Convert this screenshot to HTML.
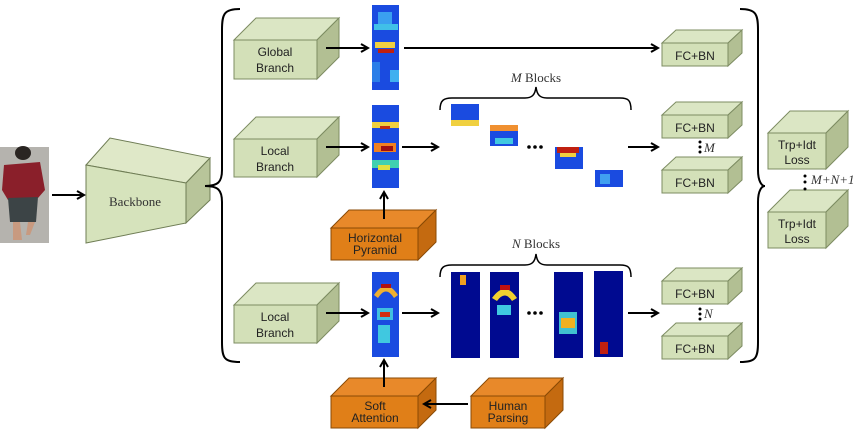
<!DOCTYPE html>
<html><head><meta charset="utf-8"><style>
html,body{margin:0;padding:0;background:#fff;}
svg{display:block;}
.g{font-family:"Liberation Sans",sans-serif;font-size:12px;fill:#222;text-anchor:middle;}
.s{font-family:"Liberation Serif",serif;font-size:13px;fill:#333;text-anchor:middle;}
.i{font-family:"Liberation Serif",serif;font-style:italic;font-size:13px;fill:#333;}
</style></head><body>
<svg width="865" height="430" viewBox="0 0 865 430" xmlns="http://www.w3.org/2000/svg">
<defs>
<marker id="a" markerWidth="10" markerHeight="10" refX="8" refY="5" orient="auto" markerUnits="userSpaceOnUse">
<path d="M1,1 L8,5 L1,9" fill="none" stroke="#000" stroke-width="2"/></marker>
</defs>
<g stroke-width="1">
<!-- person -->
<rect x="0" y="147" width="49" height="96" fill="#9a9a9a"/>
<rect x="0" y="147" width="49" height="96" fill="#b5b3ae"/>
<ellipse cx="23" cy="153" rx="8" ry="7" fill="#2a2522"/>
<path d="M4,165 L40,162 L45,190 L38,198 L8,200 L2,190Z" fill="#8a1f2a"/>
<path d="M8,198 L38,197 L36,222 L10,222Z" fill="#3c4446"/>
<path d="M13,222 L20,222 L22,240 L13,240Z M28,222 L35,222 L30,235 L26,235Z" fill="#c89a80"/>
<!-- backbone -->
<polygon points="86,165 110,138 210,158 186,183" fill="#dfe8c8" stroke="#6f7d55"/>
<polygon points="186,183 210,158 210,200 186,223" fill="#b8c59a" stroke="#6f7d55"/>
<polygon points="86,165 186,183 186,223 86,243" fill="#d6e3bc" stroke="#6f7d55"/>
<text x="135" y="206" class="s" font-size="13">Backbone</text>
<line x1="52" y1="195" x2="84" y2="195" stroke="#000" stroke-width="2" marker-end="url(#a)"/>
<!-- left brace -->
<path d="M240,9 C224,9 222,14 222,30 L222,170 C222,182 218,186 205,186 C218,186 222,190 222,202 L222,342 C222,358 224,362 240,362" fill="none" stroke="#000" stroke-width="2"/>
<!-- right brace -->
<path d="M740,9 C756,9 758,14 758,30 L758,170 C758,182 762,186 765,186 C762,186 758,190 758,202 L758,342 C758,358 756,362 740,362" fill="none" stroke="#000" stroke-width="2"/>
</g>
<!-- green cubes -->
<g stroke="#7d8c62" stroke-width="1">
<g>
<polygon points="234,40 256,18 339,18 317,40" fill="#dbe6c4"/><polygon points="317,40 339,18 339,57 317,79" fill="#b2bf93"/><rect x="234" y="40" width="83" height="39" fill="#d3e0b8"/>
</g>
<g>
<polygon points="234,139 256,117 339,117 317,139" fill="#dbe6c4"/><polygon points="317,139 339,117 339,155 317,177" fill="#b2bf93"/><rect x="234" y="139" width="83" height="38" fill="#d3e0b8"/>
</g>
<g>
<polygon points="234,305 256,283 339,283 317,305" fill="#dbe6c4"/><polygon points="317,305 339,283 339,321 317,343" fill="#b2bf93"/><rect x="234" y="305" width="83" height="38" fill="#d3e0b8"/>
</g>
<!-- FC+BN -->
<g id="fc">
<polygon points="662,43 676,30 742,30 728,43" fill="#dbe6c4"/><polygon points="728,43 742,30 742,53 728,66" fill="#b2bf93"/><rect x="662" y="43" width="66" height="23" fill="#d3e0b8"/>
</g>
<use href="#fc" y="72"/><use href="#fc" y="127"/><use href="#fc" y="238"/><use href="#fc" y="293"/>
<!-- Trp -->
<g id="tr">
<polygon points="768,133 790,111 848,111 826,133" fill="#dbe6c4"/><polygon points="826,133 848,111 848,147 826,169" fill="#b2bf93"/><rect x="768" y="133" width="58" height="36" fill="#d3e0b8"/>
</g>
<use href="#tr" y="79"/>
</g>
<!-- orange cubes -->
<g stroke="#8a4a05" stroke-width="1">
<polygon points="331,228 349,210 436,210 418,228" fill="#e8892a"/><polygon points="418,228 436,210 436,242 418,260" fill="#c46a10"/><rect x="331" y="228" width="87" height="32" fill="#e07f18"/>
<polygon points="331,396 349,378 436,378 418,396" fill="#e8892a"/><polygon points="418,396 436,378 436,410 418,428" fill="#c46a10"/><rect x="331" y="396" width="87" height="32" fill="#e07f18"/>
<polygon points="471,396 489,378 563,378 545,396" fill="#e8892a"/><polygon points="545,396 563,378 563,410 545,428" fill="#c46a10"/><rect x="471" y="396" width="74" height="32" fill="#e07f18"/>
</g>
<!-- labels -->
<g class="g">
<text x="275" y="56">Global</text><text x="275" y="72">Branch</text>
<text x="275" y="155">Local</text><text x="275" y="171">Branch</text>
<text x="275" y="321">Local</text><text x="275" y="337">Branch</text>
<text x="375" y="242">Horizontal</text><text x="375" y="254">Pyramid</text>
<text x="375" y="410">Soft</text><text x="375" y="422">Attention</text>
<text x="508" y="410">Human</text><text x="508" y="422">Parsing</text>
<text x="695" y="60">FC+BN</text><text x="695" y="132">FC+BN</text><text x="695" y="187">FC+BN</text>
<text x="695" y="298">FC+BN</text><text x="695" y="353">FC+BN</text>
<text x="797" y="149">Trp+Idt</text><text x="797" y="164">Loss</text>
<text x="797" y="228">Trp+Idt</text><text x="797" y="243">Loss</text>
</g>
<!-- heatmaps -->
<g>
<rect x="372" y="5" width="27" height="85" fill="#1a4be0"/>
<rect x="378" y="12" width="14" height="12" fill="#3aa0f0"/><rect x="374" y="24" width="24" height="6" fill="#40c0e8"/>
<rect x="375" y="42" width="20" height="6" fill="#f0d040"/><rect x="378" y="49" width="16" height="4" fill="#c02010"/>
<rect x="372" y="62" width="8" height="20" fill="#2a7ee8"/><rect x="390" y="70" width="9" height="12" fill="#40b0f0"/>
<rect x="372" y="105" width="27" height="83" fill="#1a4be0"/>
<rect x="372" y="122" width="27" height="6" fill="#f0d040"/><rect x="380" y="126" width="10" height="3" fill="#c03010"/>
<rect x="374" y="143" width="22" height="9" fill="#f08020"/><rect x="381" y="146" width="12" height="5" fill="#a01010"/>
<rect x="372" y="160" width="27" height="8" fill="#40d0b0"/><rect x="378" y="165" width="12" height="5" fill="#e0e040"/>
<rect x="372" y="272" width="27" height="85" fill="#1a4be0"/>
<path d="M374,295 Q386,277 398,295 L394,298 Q386,285 378,298Z" fill="#f0b030"/><rect x="381" y="284" width="10" height="4" fill="#b01010"/>
<rect x="377" y="308" width="16" height="12" fill="#40c0e0"/><rect x="380" y="312" width="10" height="5" fill="#d03010"/>
<rect x="378" y="325" width="12" height="18" fill="#40c8e0"/>
<!-- M blocks -->
<rect x="451" y="104" width="28" height="22" fill="#1a4be0"/><rect x="451" y="120" width="28" height="6" fill="#f0d040"/>
<rect x="490" y="125" width="28" height="21" fill="#1a4be0"/><rect x="490" y="125" width="28" height="6" fill="#f09030"/><rect x="495" y="138" width="18" height="6" fill="#40c8e0"/>
<rect x="555" y="147" width="28" height="22" fill="#1a4be0"/><rect x="557" y="147" width="22" height="6" fill="#c02010"/><rect x="560" y="153" width="16" height="4" fill="#f0d040"/>
<rect x="595" y="170" width="28" height="17" fill="#1a4be0"/><rect x="600" y="174" width="10" height="10" fill="#40a0f0"/>
<!-- N blocks -->
<rect x="451" y="272" width="29" height="86" fill="#000a90"/><rect x="460" y="275" width="6" height="10" fill="#f0a020"/>
<rect x="490" y="272" width="29" height="86" fill="#000a90"/><path d="M492,298 Q505,280 517,298 L512,301 Q505,290 497,301Z" fill="#f0d030"/><rect x="500" y="285" width="10" height="5" fill="#c01010"/><rect x="497" y="305" width="14" height="10" fill="#40c8e0"/>
<rect x="554" y="272" width="29" height="86" fill="#000a90"/><rect x="559" y="312" width="18" height="22" fill="#40c0d0"/><rect x="561" y="318" width="14" height="10" fill="#f0b020"/>
<rect x="594" y="271" width="29" height="86" fill="#000a90"/><rect x="600" y="342" width="8" height="12" fill="#c02010"/>
</g>
<!-- braces M/N -->
<g fill="none" stroke="#000" stroke-width="1.5">
<path d="M440,110 C440,100 444,98 452,98 L525,98 C532,98 535,95 536,87 C537,95 540,98 547,98 L620,98 C628,98 631,100 631,110"/>
<path d="M440,277 C440,267 444,265 452,265 L525,265 C532,265 535,262 536,254 C537,262 540,265 547,265 L620,265 C628,265 631,267 631,277"/>
</g>
<text x="536" y="82" class="s"><tspan font-style="italic">M</tspan> Blocks</text>
<text x="536" y="248" class="s"><tspan font-style="italic">N</tspan> Blocks</text>
<!-- dots -->
<g fill="#000">
<circle cx="529" cy="147" r="1.8"/><circle cx="535" cy="147" r="1.8"/><circle cx="541" cy="147" r="1.8"/>
<circle cx="529" cy="313" r="1.8"/><circle cx="535" cy="313" r="1.8"/><circle cx="541" cy="313" r="1.8"/>
<circle cx="700" cy="142" r="1.5"/><circle cx="700" cy="147" r="1.5"/><circle cx="700" cy="152" r="1.5"/>
<circle cx="700" cy="309" r="1.5"/><circle cx="700" cy="314" r="1.5"/><circle cx="700" cy="319" r="1.5"/>
<circle cx="805" cy="176" r="1.5"/><circle cx="805" cy="182" r="1.5"/><circle cx="805" cy="189" r="1.5"/>
</g>
<text x="704" y="152" class="i">M</text><text x="704" y="318" class="i">N</text>
<text x="811" y="184" class="i">M+N+1</text>
<!-- arrows -->
<g stroke="#000" stroke-width="2" marker-end="url(#a)">
<line x1="326" y1="48" x2="368" y2="48"/><line x1="326" y1="147" x2="368" y2="147"/><line x1="326" y1="313" x2="368" y2="313"/>
<line x1="404" y1="48" x2="658" y2="48"/>
<line x1="402" y1="147" x2="438" y2="147"/><line x1="402" y1="313" x2="438" y2="313"/>
<line x1="628" y1="147" x2="658" y2="147"/><line x1="628" y1="313" x2="658" y2="313"/>
<line x1="384" y1="219" x2="384" y2="192"/><line x1="384" y1="387" x2="384" y2="360"/>
<line x1="468" y1="404" x2="424" y2="404"/>
</g>
</svg>
</body></html>
